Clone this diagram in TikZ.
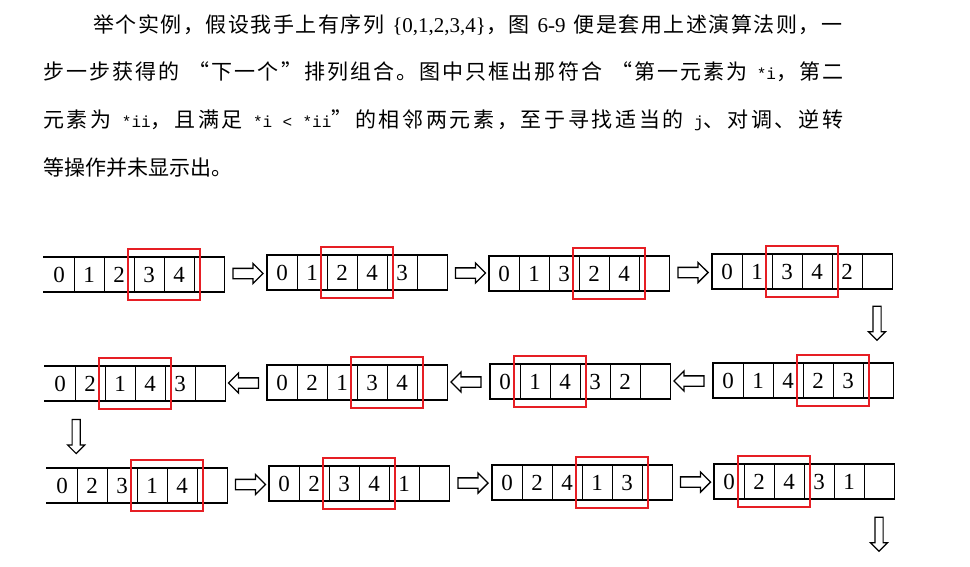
\documentclass[tikz,border=0pt]{standalone}
\usepackage{fontspec}
\setmainfont{Liberation Serif}
\setmonofont{Liberation Mono}
\newfontfamily\cjk[LetterSpace=2]{Noto Sans CJK SC}
\usetikzlibrary{shapes.arrows,fit,calc}
\definecolor{boxred}{RGB}{230,30,36}
% inter-character stretch for CJK text (justified lines)
\newcount\cjkcnt
\cjkcnt="4E00
\loop \XeTeXcharclass\cjkcnt=1 \advance\cjkcnt by 1 \ifnum\cjkcnt<"A000 \repeat
\XeTeXcharclass"FF0C=1 \XeTeXcharclass"3002=1 \XeTeXcharclass"3001=1
\XeTeXcharclass"201C=1 \XeTeXcharclass"201D=1
\XeTeXinterchartokenstate=1
\newcommand\cjkglue{\hskip 0pt plus 1pt\relax}
\XeTeXinterchartoks 1 1 = {\cjkglue}
\newcommand\gap{\hskip 5pt plus 2pt\relax}
\newcommand{\cd}[1]{{\ttfamily\fontsize{16}{16}\selectfont #1}}
% #1 name, #2 left x, #3 top y, #4 values, #5 left border (1/0)
\newcommand{\myarr}[5]{%
  \foreach \v [count=\i] in {#4,{}} {
    \node[cell] (#1c\i) at ({#2+30*\i-15}, {#3+17.5}) {\v};
  }
  \draw[outerline] (#1c1.north west) -- (#1c6.north east);
  \draw[outerline] (#1c1.south west) -- (#1c6.south east);
  \foreach \i in {1,...,5} {\draw[divider] (#1c\i.north east) -- (#1c\i.south east);}
  \draw[borderline] (#1c6.north east) -- (#1c6.south east);
  \ifnum#5=1 \draw[borderline] (#1c1.north west) -- (#1c1.south west);\fi
}
\tikzset{
  txt/.style={anchor=base west, inner sep=0pt, font=\fontsize{21}{21}\selectfont},
  cell/.style={minimum width=30pt, minimum height=35pt, inner sep=0pt, font=\fontsize{23}{23}\selectfont},
  outerline/.style={line width=1.8pt, line cap=rect},
  divider/.style={line width=0.9pt},
  borderline/.style={line width=1.4pt},
  redbox/.style={draw=boxred, line width=1.8pt, inner xsep=6pt, inner ysep=7.5pt},
  blk/.style={single arrow, draw, line width=1.3pt, fill=white, minimum height=30pt,
    inner sep=4.5pt, single arrow head extend=5pt},
  blkdown/.style={single arrow, draw, line width=1.2pt, fill=white, minimum height=34pt,
    inner sep=3.5pt, single arrow head extend=4.5pt, shape border rotate=270}
}
\begin{document}
\begin{tikzpicture}[x=1pt,y=-1pt]
\useasboundingbox (0,0) rectangle (970,567);
% paragraph
\node[txt] (l1) at (93,33) {\hbox to 749pt{{\cjk 举个实例，假设我手上有序列}\gap\{0,1,2,3,4\}{\cjk ，图}\gap 6-9\gap{\cjk 便是套用上述演算法则，一}}};
\node[txt] (l2) at (43,80) {\hbox to 800pt{{\cjk 步一步获得的}\gap{\cjk “下一个”排列组合。图中只框出那符合}\gap{\cjk “第一元素为}\gap\cd{*i}{\cjk ，第二}}};
\node[txt] (l3) at (43,128) {\hbox to 800pt{{\cjk 元素为}\gap\cd{*ii}{\cjk ，且满足}\gap\cd{*i}\gap\cd{<}\gap\cd{*ii}{\cjk ”的相邻两元素，至于寻找适当的}\gap\cd{j}{\cjk 、对调、逆转}}};
\node[txt] (l4) at (43,176) {{\cjk 等操作并未显示出。}};
% row 1
\myarr{a1}{44}{257}{0,1,2,3,4}{0}
\myarr{a2}{267}{255}{0,1,2,4,3}{1}
\myarr{a3}{489}{256}{0,1,3,2,4}{1}
\myarr{a4}{712}{254}{0,1,3,4,2}{1}
% row 2
\myarr{a5}{45}{366}{0,2,1,4,3}{0}
\myarr{a6}{267}{365}{0,2,1,3,4}{1}
\myarr{a7}{490}{364}{0,1,4,3,2}{1}
\myarr{a8}{713}{363}{0,1,4,2,3}{1}
% row 3
\myarr{a9}{47}{468}{0,2,3,1,4}{0}
\myarr{a10}{269}{466}{0,2,3,4,1}{1}
\myarr{a11}{492}{465}{0,2,4,1,3}{1}
\myarr{a12}{714}{464}{0,2,4,3,1}{1}
% red boxes
\node[redbox, fit=(a1c4)(a1c5)] (r1) {};
\node[redbox, fit=(a2c3)(a2c4)] (r2) {};
\node[redbox, fit=(a3c4)(a3c5)] (r3) {};
\node[redbox, fit=(a4c3)(a4c4)] (r4) {};
\node[redbox, fit=(a5c3)(a5c4)] (r5) {};
\node[redbox, fit=(a6c4)(a6c5)] (r6) {};
\node[redbox, fit=(a7c2)(a7c3)] (r7) {};
\node[redbox, fit=(a8c4)(a8c5)] (r8) {};
\node[redbox, fit=(a9c4)(a9c5)] (r9) {};
\node[redbox, fit=(a10c3)(a10c4)] (r10) {};
\node[redbox, fit=(a11c4)(a11c5)] (r11) {};
\node[redbox, fit=(a12c2)(a12c3)] (r12) {};
% block arrows
\node[blk] (h1) at ($(a1c6.east)!0.5!(a2c1.west)$) {};
\node[blk] (h2) at ($(a2c6.east)!0.5!(a3c1.west)$) {};
\node[blk] (h3) at ($(a3c6.east)!0.5!(a4c1.west)$) {};
\node[blkdown] (v1) at ($(a4c6.south)+(0,32)$) {};
\node[blk, shape border rotate=180] (h4) at ($(a8c1.west)!0.5!(a7c6.east)$) {};
\node[blk, shape border rotate=180] (h5) at ($(a7c1.west)!0.5!(a6c6.east)$) {};
\node[blk, shape border rotate=180] (h6) at ($(a6c1.west)!0.5!(a5c6.east)$) {};
\node[blkdown] (v2) at ($(a5c1.south east)!0.5!(a9c1.north east)$) {};
\node[blk] (h7) at ($(a9c6.east)!0.5!(a10c1.west)$) {};
\node[blk] (h8) at ($(a10c6.east)!0.5!(a11c1.west)$) {};
\node[blk] (h9) at ($(a11c6.east)!0.5!(a12c1.west)$) {};
\node[blkdown] (v3) at ($(a12c6.south)+(0,33)$) {};
\end{tikzpicture}
\end{document}
